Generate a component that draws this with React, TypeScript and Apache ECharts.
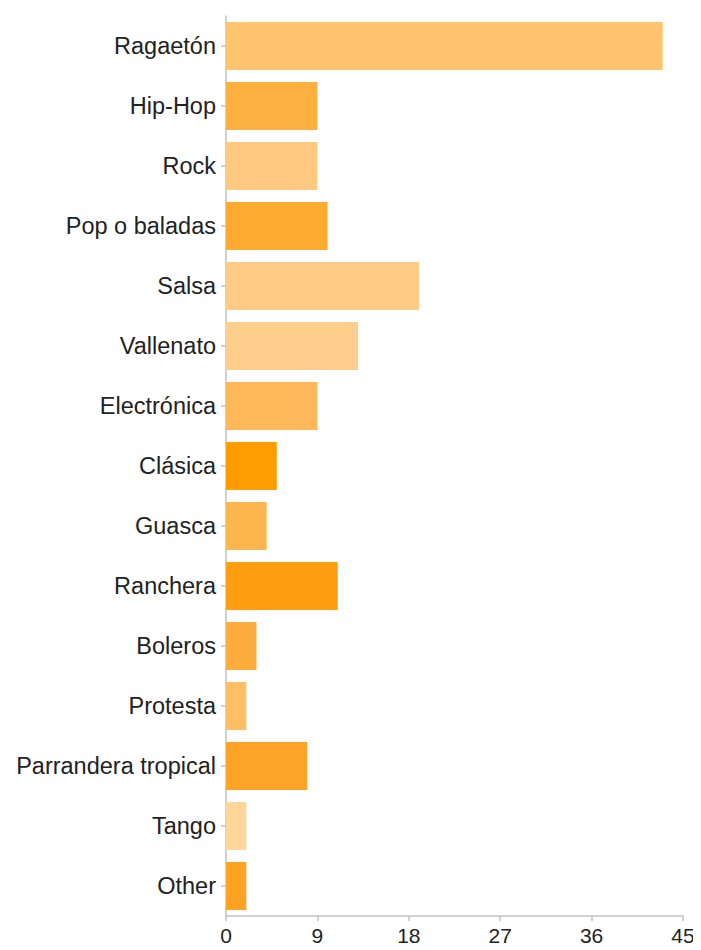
import React, { useEffect, useRef } from "react";
import * as echarts from "echarts";

const categories = [
  "Ragaetón",
  "Hip-Hop",
  "Rock",
  "Pop o baladas",
  "Salsa",
  "Vallenato",
  "Electrónica",
  "Clásica",
  "Guasca",
  "Ranchera",
  "Boleros",
  "Protesta",
  "Parrandera tropical",
  "Tango",
  "Other",
];

const values = [43, 9, 9, 10, 19, 13, 9, 5, 4, 11, 3, 2, 8, 2, 2];

const barColors = [
  "#FFC46E",
  "#FDB03F",
  "#FFCA80",
  "#FDAA30",
  "#FFCB85",
  "#FFCE8C",
  "#FEB85A",
  "#FF9C00",
  "#FDB54E",
  "#FF9E10",
  "#FDAC3E",
  "#FFBD64",
  "#FDA428",
  "#FFD599",
  "#FDA321",
];

const xTicks = { min: 0, max: 45, interval: 9 };

export default function App() {
  const ref = useRef<HTMLDivElement>(null);
  useEffect(() => {
    if (!ref.current) return;
    const chart = echarts.init(ref.current, undefined, { renderer: "svg" });
    chart.setOption({
      animation: false,
      grid: { left: 218, right: 18, top: 8, bottom: 34, containLabel: false },
      xAxis: {
        type: "value",
        min: xTicks.min,
        max: xTicks.max,
        interval: xTicks.interval,
        splitLine: { show: false },
        axisLine: { show: true, lineStyle: { color: "#c2c2c2", width: 1.5 } },
        axisTick: { show: true, length: 5, lineStyle: { color: "#c2c2c2", width: 1.5 } },
        axisLabel: {
          color: "#222",
          fontSize: 21,
          fontFamily: "Liberation Sans, Arial, sans-serif",
          margin: 9,
        },
      },
      yAxis: {
        type: "category",
        data: categories,
        inverse: true,
        axisLine: { show: true, lineStyle: { color: "#c2c2c2", width: 1.5 } },
        axisTick: { show: true, length: 5, alignWithLabel: true, lineStyle: { color: "#c2c2c2", width: 1.5 } },
        axisLabel: {
          color: "#222",
          fontSize: 23.5,
          fontFamily: "Liberation Sans, Arial, sans-serif",
          margin: 10,
        },
      },
      series: [
        {
          type: "bar",
          barCategoryGap: "20%",
          data: values.map((v, i) => ({ value: v, itemStyle: { color: barColors[i] } })),
        },
      ],
    });
    return () => chart.dispose();
  }, []);
  return <div ref={ref} style={{ width: 693, height: 942 }} />;
}
